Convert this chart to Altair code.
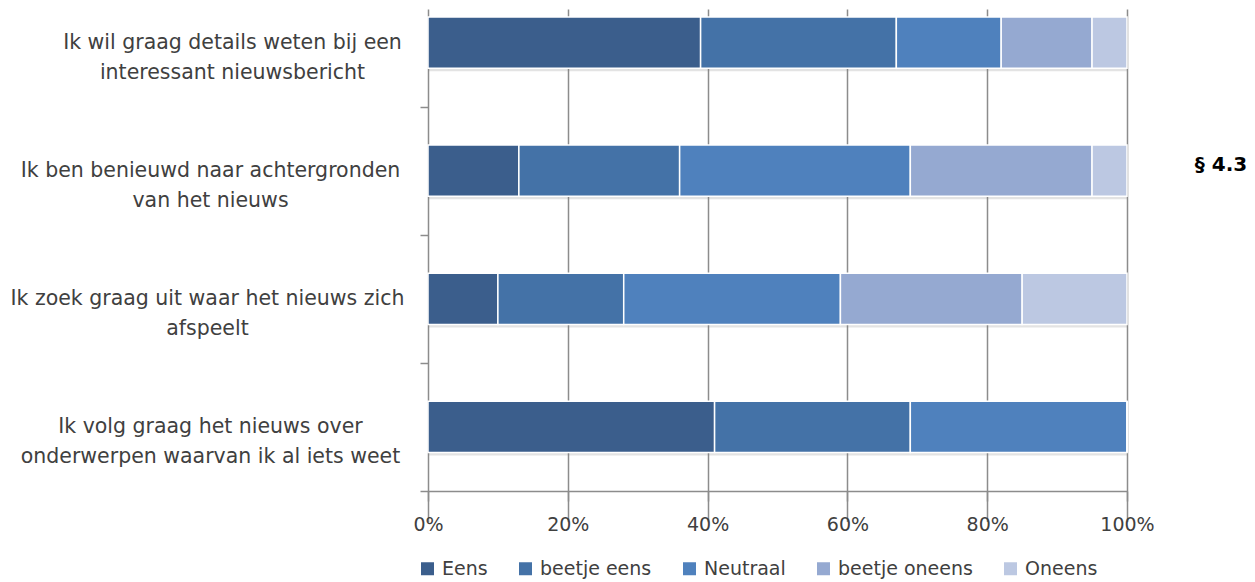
import altair as alt
import pandas as pd

# --- data ---
categories = [
    "Ik wil graag details weten bij een|interessant nieuwsbericht",
    "Ik ben benieuwd naar achtergronden|van het nieuws",
    "Ik zoek graag uit waar het nieuws zich|afspeelt",
    "Ik volg graag het nieuws over|onderwerpen waarvan ik al iets weet",
]
answers = ["Eens", "beetje eens", "Neutraal", "beetje oneens", "Oneens"]
eens = [39, 13, 10, 41]
beetje_eens = [28, 23, 18, 28]
neutraal = [15, 33, 31, 31]
beetje_oneens = [13, 26, 26, 0]
oneens = [5, 5, 15, 0]
colors = ["#3b5e8c", "#4472a7", "#4f81bd", "#95a9d1", "#bcc8e2"]
tick_values = [0, 20, 40, 60, 80, 100]
note = ["§ 4.3"]

series = [eens, beetje_eens, neutraal, beetje_oneens, oneens]
rows = []
for ai, (ans, vals) in enumerate(zip(answers, series)):
    for cat, v in zip(categories, vals):
        rows.append({"stelling": cat, "antwoord": ans, "ord": ai, "pct": v})
df = pd.DataFrame(rows)
note_df = pd.DataFrame({"note": note})

FONT = "DejaVu Sans"
TXT = "#404040"
GRID = "#8c8c8c"

label_pad = {
    "condition": [
        {"test": f"datum.value == '{categories[0]}'", "value": 188},
        {"test": f"datum.value == '{categories[2]}'", "value": 213},
    ],
    "value": 210,
}

x_enc = alt.X(
    "pct:Q",
    stack="zero",
    scale=alt.Scale(domain=[0, 100], nice=False),
    axis=alt.Axis(
        values=tick_values,
        labelExpr="datum.value + '%'",
        title=None,
        grid=True,
        gridColor=GRID,
        gridWidth=1.5,
        domainColor=GRID,
        domainWidth=1.5,
        tickColor=GRID,
        tickWidth=1.5,
        tickSize=10,
        labelFont=FONT,
        labelFontSize=19,
        labelColor=TXT,
        labelPadding=14,
        labelFlush=False,
    ),
)
y_enc = alt.Y(
    "stelling:N",
    sort=categories,
    scale=alt.Scale(domain=categories, range=[-30.5, 482], paddingInner=0.6, paddingOuter=0.3),
    axis=alt.Axis(
        title=None,
        domain=False,
        grid=False,
        tickColor=GRID,
        tickWidth=1.5,
        tickSize=8,
        tickOffset=64.1,
        labelOffset=-64.1,
        labelExpr="split(datum.label, '|')",
        labelAlign="center",
        labelBaseline="middle",
        labelLineHeight=30,
        labelPadding=label_pad,
        labelFont=FONT,
        labelFontSize=20.5,
        labelColor=TXT,
        labelLimit=0,
    ),
)

shadow = alt.Chart(df).mark_bar(color="#7f7f7f", opacity=0.22, yOffset=3).encode(
    x=x_enc,
    y=y_enc,
    order=alt.Order("ord:Q"),
)

bars = alt.Chart(df).mark_bar(stroke="white", strokeWidth=1.5).encode(
    x=x_enc,
    y=y_enc,
    color=alt.Color(
        "antwoord:N",
        scale=alt.Scale(domain=answers, range=colors),
        legend=alt.Legend(
            orient="none",
            legendX=-10,
            legendY=550,
            direction="horizontal",
            title=None,
            symbolType="square",
            symbolSize=169,
            symbolStrokeWidth=0,
            symbolOpacity=1,
            labelFont=FONT,
            labelFontSize=19,
            labelColor=TXT,
            labelOffset=5,
            columnPadding=28,
        ),
    ),
    order=alt.Order("ord:Q"),
)

note_text = alt.Chart(note_df).mark_text(
    font=FONT, fontSize=20, fontWeight="bold", color="black", align="center", baseline="middle"
).encode(
    text="note:N",
    x=alt.value(793),
    y=alt.value(156),
)

chart = alt.layer(shadow, bars, note_text).properties(
    width=699,
    height=482,
    padding={"left": 420, "top": 1, "right": 120, "bottom": 91},
    autosize=alt.AutoSizeParams(type="none"),
).configure_view(stroke=None)

chart.save("out.html", embed_options={"renderer": "svg", "actions": False})
